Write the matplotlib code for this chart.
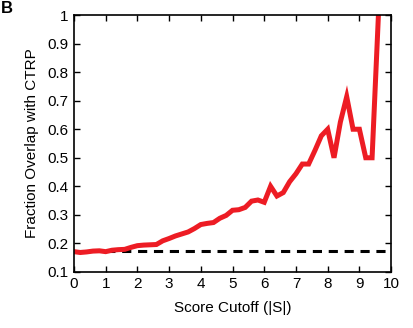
import matplotlib.pyplot as plt
import numpy as np

plt.rcParams['font.family'] = ['Liberation Sans', 'DejaVu Sans']

# score cutoff values and fraction overlap
cutoff = np.arange(0, 9.61, 0.2)
overlap = [0.171, 0.168, 0.170, 0.173, 0.174, 0.171, 0.176, 0.178, 0.179, 0.186,
           0.192, 0.194, 0.195, 0.196, 0.209, 0.217, 0.226, 0.233, 0.240, 0.252,
           0.266, 0.270, 0.273, 0.288, 0.298, 0.316, 0.318, 0.326, 0.348, 0.352,
           0.344, 0.400, 0.366, 0.378, 0.416, 0.444, 0.478, 0.478, 0.526, 0.577,
           0.600, 0.500, 0.625, 0.714, 0.600, 0.600, 0.500, 0.500, 1.000]
baseline = 0.174

xticks = list(range(0, 11))
yticks = [0.1, 0.2, 0.3, 0.4, 0.5, 0.6, 0.7, 0.8, 0.9, 1]
ytick_labels = ['0.1', '0.2', '0.3', '0.4', '0.5', '0.6', '0.7', '0.8', '0.9', '1']

fig = plt.figure(figsize=(4.13, 3.28), dpi=100)
ax = fig.add_axes([0.179, 0.171, 0.768, 0.783])

ax.axhline(baseline, color='black', linestyle=(0, (3, 2.2)), linewidth=2.2)
ax.plot(cutoff, overlap, color='#ED1C24', linewidth=3.6, solid_joinstyle='miter')

ax.set_xlim(0, 10)
ax.set_ylim(0.1, 1)
ax.set_xticks(xticks)
ax.set_yticks(yticks)
ax.set_yticklabels(ytick_labels)
ax.tick_params(direction='in', top=True, right=True, length=4, width=1,
               labelsize=11, pad=4)
for s in ax.spines.values():
    s.set_linewidth(1.2)

ax.set_xlabel('Score Cutoff (|S|)', fontsize=11, labelpad=7)
ax.set_ylabel('Fraction Overlap with CTRP', fontsize=11, labelpad=6)

# panel letter, kept inside the canvas
fig.text(0.003, 0.998, 'B', fontsize=12, fontweight='bold', va='top', ha='left')

fig.savefig('out.png', dpi=100)
